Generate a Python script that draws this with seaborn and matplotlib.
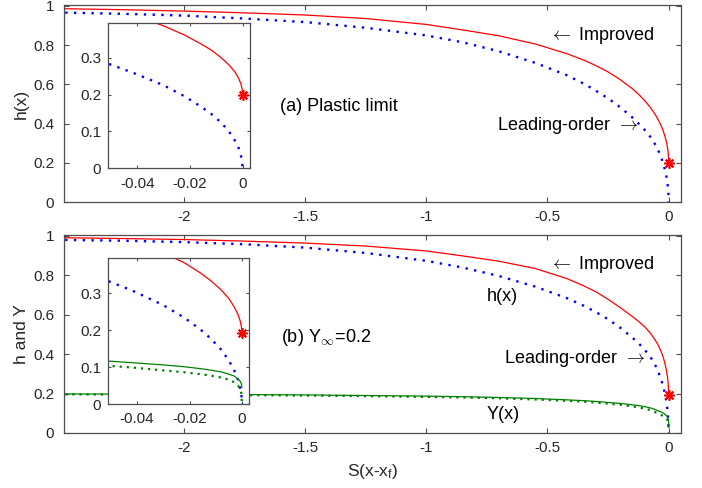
import numpy as np
import pandas as pd
import matplotlib
matplotlib.use("Agg")
import matplotlib.pyplot as plt
import seaborn as sns

# x positions S(x - x_f), shared by every curve (dense near the tip x=0)
x_pos = [-2.49, -2.25, -2.0, -1.75, -1.5, -1.25, -1.0, -0.85, -0.7, -0.55,
         -0.42, -0.35, -0.3, -0.25, -0.2, -0.15, -0.125, -0.1, -0.075, -0.062,
         -0.052, -0.042, -0.03, -0.022, -0.016, -0.012, -0.008, -0.005, -0.003,
         -0.0015, -0.0007, -0.0002, 0.0]

# (a) plastic limit
h_improved_a = [0.985, 0.980, 0.973, 0.964, 0.953, 0.935, 0.905, 0.877, 0.847, 0.805,
                0.756, 0.723, 0.695, 0.663, 0.624, 0.578, 0.550, 0.519, 0.481, 0.458,
                0.439, 0.417, 0.386, 0.361, 0.338, 0.321, 0.299, 0.279, 0.262,
                0.244, 0.230, 0.216, 0.200]
h_leading_a = [0.965, 0.959, 0.950, 0.935, 0.917, 0.888, 0.849, 0.814, 0.768, 0.709,
               0.646, 0.603, 0.567, 0.528, 0.483, 0.431, 0.401, 0.369, 0.331, 0.307,
               0.286, 0.260, 0.225, 0.195, 0.168, 0.148, 0.123, 0.098, 0.076,
               0.055, 0.0365, 0.020, 0.0]

# (b) Y_inf = 0.2
h_improved_b = [0.990, 0.986, 0.981, 0.973, 0.963, 0.948, 0.923, 0.898, 0.871, 0.834,
                0.783, 0.746, 0.716, 0.678, 0.636, 0.591, 0.567, 0.540, 0.506, 0.483,
                0.464, 0.443, 0.410, 0.383, 0.356, 0.335, 0.310, 0.286, 0.264,
                0.243, 0.226, 0.210, 0.193]
h_leading_b = [0.979, 0.975, 0.968, 0.957, 0.940, 0.913, 0.873, 0.839, 0.796, 0.742,
               0.684, 0.645, 0.613, 0.577, 0.534, 0.484, 0.456, 0.424, 0.385, 0.359,
               0.336, 0.308, 0.268, 0.234, 0.203, 0.178, 0.148, 0.118, 0.092,
               0.066, 0.044, 0.024, 0.0]
Y_improved_b = [0.198, 0.197, 0.196, 0.195, 0.193, 0.190, 0.187, 0.184, 0.180, 0.175,
                0.168, 0.164, 0.160, 0.155, 0.150, 0.143, 0.139, 0.134, 0.127, 0.122,
                0.117, 0.112, 0.106, 0.101, 0.096, 0.092, 0.087, 0.081, 0.076,
                0.068, 0.062, 0.055, 0.045]
Y_leading_b = [0.196, 0.195, 0.194, 0.192, 0.190, 0.187, 0.183, 0.180, 0.176, 0.170,
               0.163, 0.159, 0.154, 0.149, 0.143, 0.135, 0.130, 0.124, 0.116, 0.110,
               0.104, 0.099, 0.091, 0.086, 0.081, 0.077, 0.072, 0.066, 0.059,
               0.050, 0.040, 0.028, 0.0]

main_xticks = [-2, -1.5, -1, -0.5, 0]
main_yticks = [0, 0.2, 0.4, 0.6, 0.8, 1]
inset_xticks = [-0.04, -0.02, 0]
inset_yticks = [0, 0.1, 0.2, 0.3]

RED = "#ff0000"
BLUE = "#0000ff"
GREEN = "#008000"
AXCOL = "#4d4d4d"
TXT = "#262626"

sns.set_theme(style="white")
plt.rcParams["font.family"] = ["Liberation Sans", "DejaVu Sans"]
plt.rcParams["axes.unicode_minus"] = False
plt.rcParams["mathtext.fontset"] = "custom"
plt.rcParams["mathtext.rm"] = "Liberation Sans"
plt.rcParams["mathtext.it"] = "Liberation Sans"

df = pd.DataFrame({"x": x_pos,
                   "ha": h_improved_a, "la": h_leading_a,
                   "hb": h_improved_b, "lb": h_leading_b,
                   "yb": Y_improved_b, "ylb": Y_leading_b})


def style_axes(ax, xticks, yticks, fs, ticklen, xpad, ypad):
    ax.set_xticks(xticks)
    ax.set_yticks(yticks)
    ax.set_xticklabels(["%g" % t for t in xticks])
    ax.set_yticklabels(["%g" % t for t in yticks])
    ax.tick_params(direction="in", length=ticklen, width=0.8, color=AXCOL,
                   top=True, right=True, bottom=True, left=True,
                   labelsize=fs, labelcolor=TXT)
    ax.tick_params(axis="x", pad=xpad)
    ax.tick_params(axis="y", pad=ypad)
    for s in ax.spines.values():
        s.set_color(AXCOL)
        s.set_linewidth(0.9)
    ax.set_xlabel("")
    ax.set_ylabel("")
    ax.grid(False)


def draw(ax, hi, hl, yi=None, yl=None):
    sns.lineplot(data=df, x="x", y=hi, ax=ax, color=RED, lw=0.9, sort=False)
    sns.lineplot(data=df, x="x", y=hl, ax=ax, color=BLUE, lw=1.7, sort=False,
                 linestyle=(0, (1, 2.7)), dash_capstyle="butt")
    if yi is not None:
        sns.lineplot(data=df, x="x", y=yi, ax=ax, color=GREEN, lw=0.9, sort=False)
        sns.lineplot(data=df, x="x", y=yl, ax=ax, color=GREEN, lw=1.6, sort=False,
                     linestyle=(0, (1, 2.2)), dash_capstyle="butt")
    ax.plot(df["x"].iloc[-1], df[hi].iloc[-1], marker=(8, 2, 0), color=RED,
            ms=7.5, mew=1.2, ls="none", clip_on=False, zorder=5)


fig = plt.figure(figsize=(7.02, 4.88), dpi=100)
W, H = 702.0, 488.0

# main panels
axa = fig.add_axes([64 / W, 1 - 202 / H, 617 / W, 197 / H])
axb = fig.add_axes([64 / W, 1 - 433 / H, 617 / W, 198 / H])

draw(axa, "ha", "la")
draw(axb, "hb", "lb", "yb", "ylb")

for ax in (axa, axb):
    ax.set_xlim(-2.495, 0.051)
    ax.set_ylim(0, 1.004)
    style_axes(ax, main_xticks, main_yticks, 11, 3.5, 6, 7)

axa.set_ylabel("h(x)", fontsize=12.5, color=TXT, labelpad=3)
axb.set_ylabel("h and Y", fontsize=12.5, color=TXT, labelpad=3)
axb.set_xlabel("S(x-x$_\\mathregular{f}$)", fontsize=12.5, color=TXT, labelpad=5)

tk = dict(fontsize=13, color="black", va="center", ha="left",
          math_fontfamily="cm")
axa.text(-1.603, 0.488, "(a) Plastic limit", **tk)
axa.text(-0.494, 0.85, "$\\leftarrow$ Improved", **tk)
axa.text(-0.71, 0.391, "Leading-order $\\,\\rightarrow$", **tk)

axb.text(-1.598, 0.482, "(b) Y$_\\infty$=0.2", **tk)
axb.text(-0.494, 0.855, "$\\leftarrow$ Improved", **tk)
axb.text(-0.75, 0.694, "h(x)", **tk)
axb.text(-0.68, 0.38, "Leading-order $\\,\\rightarrow$", **tk)
axb.text(-0.75, 0.092, "Y(x)", **tk)

# insets
ina = fig.add_axes([108.3 / W, 1 - 168.3 / H, 141.4 / W, 145 / H])
inb = fig.add_axes([108.3 / W, 1 - 404 / H, 140.7 / W, 145.7 / H])
draw(ina, "ha", "la")
draw(inb, "hb", "lb", "yb", "ylb")
ina.set_ylim(0, 0.393)
inb.set_ylim(0, 0.395)
for ax in (ina, inb):
    ax.set_facecolor("white")
    ax.set_xlim(-0.051, 0.0027)
    style_axes(ax, inset_xticks, inset_yticks, 11, 2.5, 6, 5)

fig.savefig("out.png", dpi=100)
